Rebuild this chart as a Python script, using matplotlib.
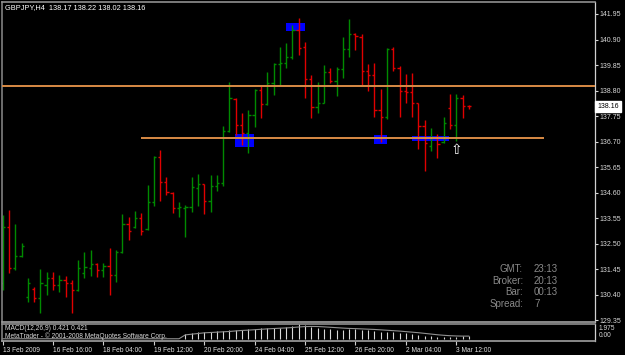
import matplotlib
matplotlib.use("Agg")
import matplotlib.pyplot as plt
from matplotlib.patches import Rectangle
import numpy as np

plt.rcParams['font.family'] = ['Liberation Sans', 'DejaVu Sans']

W, H = 625, 355

# GBPJPY H4 bars
opens = [130.90, 133.20, 131.50, 132.00, 130.30, 130.65, 130.25, 130.80, 131.10, 130.80,
         131.00, 130.90, 130.60, 131.30, 131.50, 131.65, 131.40, 131.60, 131.20, 132.15,
         133.30, 133.20, 133.55, 133.10, 134.20, 136.05, 135.05, 134.60, 133.95, 133.95,
         134.00, 134.80, 134.95, 134.27, 134.87, 135.01, 137.14, 138.45, 137.38, 137.05,
         137.79, 138.82, 138.25, 139.11, 139.90, 139.93, 140.17, 141.30, 140.60, 139.28,
         138.14, 138.30, 139.58, 139.19, 139.67, 140.51, 141.13, 141.00, 139.60, 139.44,
         138.00, 137.70, 140.50, 139.72, 138.80, 138.75, 138.29, 137.34, 136.50, 136.90,
         136.70, 138.10, 137.38, 138.50, 138.17]
highs = [133.68, 133.88, 133.31, 132.53, 131.09, 130.72, 131.46, 131.33, 131.33, 131.21,
         131.17, 131.00, 131.83, 132.16, 132.24, 131.70, 131.70, 132.32, 132.24, 133.72,
         133.60, 133.84, 133.76, 134.91, 136.11, 136.35, 135.24, 134.62, 134.21, 134.09,
         135.24, 135.37, 134.95, 135.32, 135.32, 137.34, 139.15, 138.49, 137.88, 138.00,
         138.86, 138.99, 139.56, 139.93, 140.59, 140.76, 141.50, 141.79, 140.80, 139.44,
         139.15, 139.85, 139.73, 139.77, 141.00, 141.74, 141.17, 141.13, 139.89, 139.93,
         138.86, 140.55, 140.59, 139.81, 139.48, 139.52, 138.29, 137.59, 137.26, 137.01,
         137.71, 138.66, 138.66, 138.62, 138.22]
lows = [130.59, 131.29, 131.42, 131.95, 130.10, 130.10, 129.65, 130.39, 130.59, 130.51,
        130.30, 129.65, 130.55, 131.09, 131.17, 131.13, 131.13, 130.39, 130.92, 132.12,
        132.65, 133.14, 132.86, 133.06, 134.05, 134.25, 134.50, 133.76, 133.60, 132.77,
        133.80, 134.05, 133.72, 133.80, 134.67, 134.87, 137.09, 136.97, 136.56, 136.23,
        137.30, 137.67, 138.21, 138.62, 139.03, 139.73, 140.10, 140.26, 138.49, 137.67,
        137.88, 138.29, 139.11, 138.58, 139.32, 140.18, 140.47, 139.03, 138.78, 137.71,
        136.68, 137.63, 139.60, 137.71, 138.29, 137.71, 136.39, 135.49, 136.31, 136.02,
        136.64, 137.22, 136.72, 137.67, 138.02]
closes = [133.20, 131.50, 132.00, 132.40, 130.90, 130.25, 130.90, 131.10, 130.80, 131.00,
          130.90, 130.60, 131.50, 131.55, 131.65, 131.40, 131.60, 131.20, 132.15, 133.30,
          133.00, 133.55, 133.00, 134.20, 136.05, 135.05, 134.62, 133.97, 134.00, 134.00,
          134.83, 134.95, 134.27, 134.87, 135.01, 137.14, 138.51, 137.38, 137.05, 137.79,
          138.82, 138.25, 139.11, 139.90, 139.93, 140.17, 141.30, 140.54, 139.28, 138.14,
          138.30, 139.58, 139.19, 139.67, 140.51, 141.13, 141.05, 139.60, 139.44, 138.00,
          137.70, 140.50, 139.72, 138.80, 138.75, 138.29, 137.34, 136.64, 136.90, 136.60,
          137.46, 137.40, 138.50, 138.17, 138.16]

macd_hist = [0.03] * 29 + [
    0.76, 0.91, 1.06, 1.06, 1.06, 1.14, 1.22, 1.29, 1.37, 1.37,
    1.44, 1.52, 1.60, 1.60, 1.67, 1.67, 1.75, 1.90, 2.13, 1.98,
    1.82, 1.67, 1.52, 1.44, 1.37, 1.37, 1.44, 1.44, 1.37, 1.29,
    1.22, 1.06, 1.06, 0.99, 0.91, 0.84, 0.76, 0.61, 0.46, 0.38,
    0.30, 0.30, 0.30, 0.30, 0.42, 0.42]
macd_signal = [0.03] * 29 + [
    0.60, 0.70, 0.80, 0.90, 0.95, 1.00, 1.05, 1.10, 1.18, 1.25,
    1.30, 1.36, 1.42, 1.48, 1.53, 1.58, 1.62, 1.68, 1.76, 1.82,
    1.84, 1.83, 1.78, 1.72, 1.66, 1.60, 1.55, 1.52, 1.48, 1.44,
    1.40, 1.34, 1.28, 1.22, 1.16, 1.08, 1.00, 0.92, 0.82, 0.72,
    0.62, 0.54, 0.48, 0.44, 0.42, 0.42]

price_ticks = [141.95, 140.90, 139.85, 138.80, 137.75, 136.70, 135.65,
               134.60, 133.55, 132.50, 131.45, 130.40, 129.35]
time_pos = [0, 8, 16, 24, 32, 40, 48, 56, 64, 72]
time_labels = ['13 Feb 2009', '16 Feb 16:00', '18 Feb 04:00', '19 Feb 12:00', '20 Feb 20:00',
               '24 Feb 04:00', '25 Feb 12:00', '26 Feb 20:00', '2 Mar 04:00', '3 Mar 12:00']

# support/resistance lines and blue zones
upper_level = 139.00
lower_level = 136.83
lower_span = (22.0, 86.0)
zone_x0 = [44.98, 36.94, 58.95, 64.94]
zone_x1 = [47.95, 39.90, 60.97, 70.90]
zone_lo = [141.25, 136.48, 136.61, 136.72]
zone_hi = [141.58, 137.01, 136.96, 136.94]
arrow_bar, arrow_price = 72, 136.35

info_keys = ['GMT:', 'Broker:', 'Bar:', 'Spread:']
info_vals = ['23:13', '20:13', '00:13', '7']

fig = plt.figure(figsize=(W / 100, H / 100), dpi=100, facecolor='black')
ax = fig.add_axes([2 / W, 1 - 322 / H, 593 / W, 320 / H], facecolor='black')
am = fig.add_axes([2 / W, 1 - 341 / H, 593 / W, 17 / H], facecolor='black', sharex=ax)

x = np.arange(len(opens))
o, hi, lo, c = map(np.array, (opens, highs, lows, closes))
col = np.where(c >= o, '#008a00', '#e00000')

for x0, x1, y0, y1 in zip(zone_x0, zone_x1, zone_lo, zone_hi):
    ax.add_patch(Rectangle((x0, y0), x1 - x0, y1 - y0, color='#0000ff', lw=0, zorder=1))

ax.vlines(x, lo, hi, colors=col, lw=1.0, zorder=2)
ax.hlines(o, x - 0.35, x, colors=col, lw=1.0, zorder=2)
ax.hlines(c, x, x + 0.35, colors=col, lw=1.0, zorder=2)

ax.axhline(upper_level, color='#d98b45', lw=1.4, zorder=3)
ax.hlines(lower_level, lower_span[0], lower_span[1], color='#d98b45', lw=1.4, zorder=3)
ax.text(arrow_bar, arrow_price, '\u21e7', color='white', fontsize=10, ha='center', va='center',
        family='DejaVu Sans', zorder=4)

ax.set_xlim((2 - 2.6) / 6.3, (595 - 2.6) / 6.3)
ax.set_ylim(141.95 - (322 - 14) / 24.3, 141.95 + 12 / 24.3)
ax.yaxis.tick_right()
ax.set_yticks(price_ticks)
ax.set_yticklabels(['%.2f' % v for v in price_ticks])
ax.tick_params(axis='y', colors='#d8d8d8', labelsize=5, length=2, pad=1.5, width=0.8)
ax.tick_params(axis='x', bottom=False, labelbottom=False)

for a in (ax, am):
    a.spines['left'].set_color('#808080')
    a.spines['left'].set_linewidth(1.2)
    a.spines['top'].set_color('#909090')
    a.spines['top'].set_linewidth(1.2)
    a.spines['bottom'].set_color('#a0a0a0')
    a.spines['bottom'].set_linewidth(1.2)
    a.spines['right'].set_color('#d0d0d0')
    a.spines['right'].set_linewidth(0.9)

# current price label
ax.text(1.004, closes[-1], '%.2f' % closes[-1], transform=ax.get_yaxis_transform(),
        fontsize=5, color='black', va='center', ha='left',
        bbox=dict(boxstyle='square,pad=0.3', fc='white', ec='white'))

# MACD panel
am.vlines(x, 0, macd_hist, colors='#d8d8d8', lw=0.8)
am.plot(x, macd_signal, color='#909090', lw=0.8)
am.set_ylim(-0.30, 2.20)
am.set_yticks([])
am.set_xticks(time_pos)
am.set_xticklabels(time_labels)
am.tick_params(axis='x', colors='#d0d0d0', labelsize=4.8, length=3, pad=1, width=0.8)
for lbl in am.get_xticklabels():
    lbl.set_horizontalalignment('left')
    lbl.set_color('#e0e0e0')

fig.text(599 / W, 1 - 328.5 / H, '1.975', fontsize=4.8, color='#d8d8d8', va='center')
fig.text(599 / W, 1 - 335.5 / H, '0.00', fontsize=4.8, color='#d8d8d8', va='center')

fig.text(5 / W, 1 - 328.5 / H, 'MACD(12,26,9) 0.421 0.421', fontsize=4.8, color='#d8d8d8', va='center')
fig.text(5 / W, 1 - 336.5 / H, 'MetaTrader - \u00a9 2001-2008 MetaQuotes Software Corp.',
         fontsize=4.8, color='#d8d8d8', va='center')

fig.text(5 / W, 1 - 8 / H, 'GBPJPY,H4  138.17 138.22 138.02 138.16', fontsize=5.3,
         color='white', va='center')

for k, (key, val) in enumerate(zip(info_keys, info_vals)):
    yy = 1 - (269 + 11.7 * k) / H
    fig.text(523 / W, yy, key, fontsize=7, color='#8a8a8a', ha='right', va='center')
    fig.text(534 / W, yy, val, fontsize=7, color='#8a8a8a', ha='left', va='center')

fig.savefig('out.png', dpi=100, facecolor='black')
